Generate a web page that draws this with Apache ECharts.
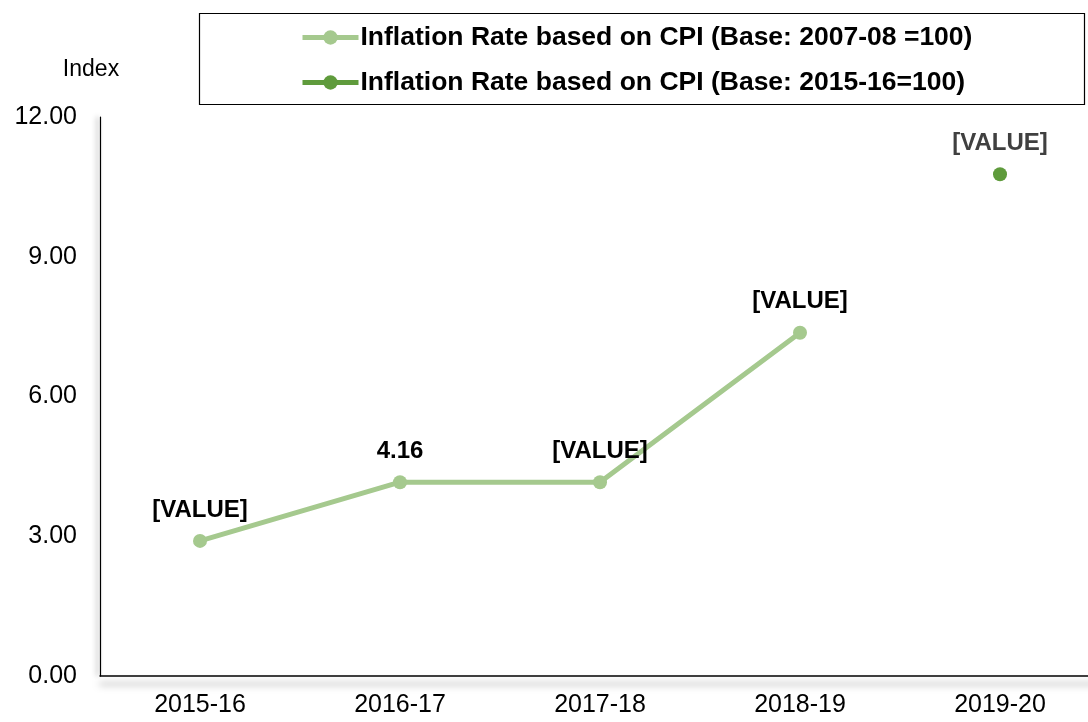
<!DOCTYPE html>
<html>
<head>
<meta charset="utf-8">
<script src="https://cdn.jsdelivr.net/npm/echarts@6/dist/echarts.min.js"></script>
<style>
  html, body { margin: 0; padding: 0; background: #fff; }
  #chart { width: 1088px; height: 722px; }
</style>
</head>
<body>
<div id="chart"></div>
<script>
// categories and values
const years = ['2015-16', '2016-17', '2017-18', '2018-19', '2019-20'];
const base2007 = [2.9, 4.16, 4.16, 7.37, null];
const base2015 = [null, null, null, null, 10.77];
const base2007Labels = ['[VALUE]', '4.16', '[VALUE]', '[VALUE]', ''];
const base2015Labels = ['', '', '', '', '[VALUE]'];
const yTicks = [0, 3, 6, 9, 12];

const seriesNames = [
  'Inflation Rate based on CPI (Base: 2007-08 =100)',
  'Inflation Rate based on CPI (Base: 2015-16=100)'
];

const lightGreen = '#a5c98e';
const darkGreen = '#5f9b3c';

const chart = echarts.init(document.getElementById('chart'));

const option = {
  animation: false,
  textStyle: { fontFamily: 'Arial, "Liberation Sans", sans-serif' },
  grid: { left: 100, top: 117, width: 1000, height: 559, outerBoundsMode: 'none' },
  graphic: [{
    type: 'rect',
    left: 197, top: 11,
    shape: { width: 885, height: 91 },
    style: { fill: 'none', stroke: '#000', lineWidth: 1.2 },
    z: 0
  }],
  legend: {
    orient: 'vertical',
    left: 300, top: 24,
    padding: 0,
    itemWidth: 56, itemHeight: 18,
    itemGap: 18,
    lineStyle: { width: 5 },
    textStyle: { fontSize: 26.5, fontWeight: 'bold', color: '#000', padding: [0, 0, 0, -3] },
    data: seriesNames
  },
  xAxis: {
    type: 'category',
    data: years,
    boundaryGap: true,
    axisTick: { show: false },
    axisLine: {
      lineStyle: { color: '#000', width: 1.5, shadowColor: 'rgba(0,0,0,0.5)', shadowBlur: 7, shadowOffsetY: 8 }
    },
    axisLabel: { color: '#000', fontSize: 25, margin: 17 }
  },
  yAxis: {
    type: 'value',
    min: yTicks[0],
    max: yTicks[yTicks.length - 1],
    interval: 3,
    name: 'Index',
    nameLocation: 'end',
    nameGap: 36,
    nameTextStyle: { color: '#000', fontSize: 23, padding: [0, 18, 0, 0] },
    splitLine: { show: false },
    axisTick: { show: false },
    axisLine: {
      show: true,
      lineStyle: { color: '#000', width: 1.2, shadowColor: 'rgba(0,0,0,0.45)', shadowBlur: 5, shadowOffsetX: -3 }
    },
    axisLabel: {
      color: '#000', fontSize: 25, margin: 23,
      formatter: v => v.toFixed(2)
    }
  },
  series: [
    {
      name: seriesNames[0],
      type: 'line',
      data: base2007,
      symbol: 'circle',
      symbolSize: 14,
      color: lightGreen,
      lineStyle: { width: 5, color: lightGreen },
      label: {
        show: true,
        position: 'top',
        distance: 12,
        fontSize: 24,
        fontWeight: 'bold',
        color: '#000',
        formatter: p => base2007Labels[p.dataIndex]
      },
      z: 3
    },
    {
      name: seriesNames[1],
      type: 'line',
      data: base2015,
      symbol: 'circle',
      symbolSize: 14,
      color: darkGreen,
      lineStyle: { width: 5, color: darkGreen },
      label: {
        show: true,
        position: 'top',
        distance: 12,
        fontSize: 24,
        fontWeight: 'bold',
        color: '#404040',
        formatter: p => base2015Labels[p.dataIndex]
      },
      z: 3
    }
  ]
};

chart.setOption(option);
</script>
</body>
</html>
